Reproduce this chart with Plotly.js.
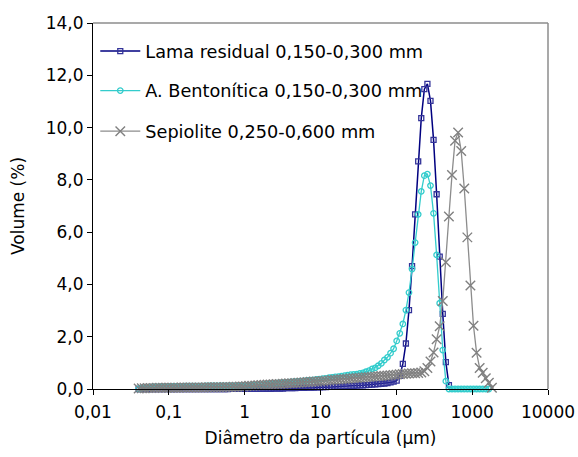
<!DOCTYPE html>
<html><head><meta charset="utf-8">
<script src="https://cdn.plot.ly/plotly-3.0.1.min.js"></script>
<style>html,body{margin:0;padding:0;background:#fff}#chart{width:578px;height:457px}</style>
</head><body><div id="chart"></div>
<script>
// Particle size channels (µm)
const sizes = [0.040,0.044,0.048,0.053,0.058,0.064,0.070,0.077,0.084,0.093,
 0.102,0.112,0.122,0.134,0.148,0.162,0.178,0.195,0.214,0.235,
 0.258,0.284,0.311,0.342,0.375,0.412,0.452,0.496,0.545,0.598,
 0.657,0.721,0.791,0.869,0.954,1.047,1.149,1.261,1.385,1.520,
 1.669,1.832,2.011,2.208,2.423,2.660,2.920,3.206,3.519,3.863,
 4.241,4.656,5.111,5.611,6.159,6.761,7.422,8.148,8.944,9.819,
 10.78,11.83,12.99,14.26,15.65,17.18,18.86,20.71,22.73,24.95,
 27.39,30.07,33.01,36.24,39.78,43.67,47.94,52.62,57.77,63.41,
 69.61,76.42,83.89,92.09,101.1,111.0,121.8,133.7,146.8,161.2,
 176.9,194.2,213.2,234.1,256.9,282.1,309.6,339.9,373.1,409.6,
 449.7,493.6,541.9,594.9,653.0,716.9,786.9,863.9,948.3,1041,
 1143,1255,1377,1512,1660,1822,2000];

// Volume (%) — Lama residual 0,150-0,300 mm
const lama = [0,0,0,0,0,0,0,0,0,0,
 0,0,0,0,0,0,0,0,0,0,
 0,0,0,0,0,0,0,0,0,0,
 0.01,0.01,0.01,0.01,0.01,0.01,0.01,0.01,0.01,0.01,
 0.01,0.01,0.01,0.01,0.02,0.02,0.02,0.02,0.03,0.03,
 0.03,0.03,0.04,0.04,0.04,0.05,0.05,0.05,0.06,0.06,
 0.07,0.07,0.08,0.08,0.09,0.09,0.10,0.10,0.11,0.12,
 0.12,0.13,0.14,0.14,0.15,0.16,0.17,0.18,0.19,0.20,
 0.21,0.23,0.25,0.28,0.32,0.50,0.96,1.74,3.02,4.70,
 6.68,8.71,10.36,11.47,11.67,11.02,9.53,7.45,5.06,2.87,
 1.03,0.15,null,null,null,null,null,null,null,null,
 null,null,null,null,null,null,null];

// Volume (%) — A. Bentonítica 0,150-0,300 mm
const bentonitica = [0.01,0.03,0.05,0.06,0.07,0.08,0.08,0.09,0.09,0.09,
 0.10,0.10,0.10,0.10,0.10,0.11,0.11,0.11,0.11,0.11,
 0.11,0.11,0.12,0.12,0.12,0.12,0.12,0.12,0.12,0.12,
 0.12,0.12,0.13,0.13,0.13,0.14,0.14,0.15,0.15,0.16,
 0.17,0.18,0.19,0.20,0.21,0.22,0.23,0.24,0.25,0.26,
 0.27,0.28,0.29,0.30,0.31,0.33,0.34,0.35,0.37,0.38,
 0.40,0.41,0.43,0.44,0.46,0.47,0.49,0.51,0.53,0.55,
 0.56,0.57,0.60,0.62,0.66,0.70,0.77,0.81,0.89,0.98,
 1.11,1.21,1.37,1.54,1.84,2.13,2.49,3.02,3.69,4.59,
 5.60,6.68,7.56,8.16,8.22,7.78,6.72,5.13,3.28,1.49,
 0.30,0,0,0,0,0,0,0,0,0,
 0,0,0,0,0,null,null];

// Volume (%) — Sepiolite 0,250-0,600 mm
const sepiolite = [0.02,0.03,0.03,0.04,0.04,0.04,0.05,0.05,0.05,0.05,
 0.05,0.05,0.05,0.05,0.06,0.06,0.06,0.06,0.06,0.06,
 0.06,0.06,0.07,0.07,0.07,0.07,0.07,0.07,0.08,0.08,
 0.08,0.09,0.09,0.10,0.10,0.11,0.12,0.12,0.13,0.14,
 0.15,0.16,0.17,0.17,0.18,0.19,0.19,0.20,0.21,0.22,
 0.22,0.23,0.24,0.25,0.26,0.27,0.28,0.29,0.29,0.30,
 0.31,0.32,0.33,0.34,0.35,0.36,0.37,0.38,0.39,0.40,
 0.41,0.42,0.43,0.44,0.45,0.46,0.47,0.48,0.49,0.50,
 0.51,0.52,0.53,0.54,0.55,0.56,0.57,0.58,0.59,0.60,
 0.60,0.61,0.63,0.68,0.80,1.05,1.40,1.90,2.40,3.37,
 4.85,6.60,8.19,9.50,9.81,9.10,7.67,5.80,3.96,2.42,
 1.39,0.80,0.62,0.41,0.24,0.05,null];

const seriesNames = ["Lama residual 0,150-0,300 mm", "A. Bentonítica 0,150-0,300 mm", "Sepiolite 0,250-0,600 mm"];
const xTickVals = [0.01, 0.1, 1, 10, 100, 1000, 10000];
const xTickText = ["0,01", "0,1", "1", "10", "100", "1000", "10000"];
const yTickVals = [0, 2, 4, 6, 8, 10, 12, 14];
const yTickText = ["0,0", "2,0", "4,0", "6,0", "8,0", "10,0", "12,0", "14,0"];
const xTitle = "Diâmetro da partícula (µm)";
const yTitle = "Volume (%)";

const FONT = "DejaVu Sans, Verdana, sans-serif";

const traces = [
  {x: sizes, y: lama, name: seriesNames[0], type: 'scatter', mode: 'lines+markers', legend: 'legend',
   cliponaxis: false,
   line: {color: '#000080', width: 1.5},
   marker: {symbol: 'square-open', size: 5, color: '#333399', line: {width: 1.3, color: '#333399'}}},
  {x: sizes, y: bentonitica, name: seriesNames[1], type: 'scatter', mode: 'lines+markers', legend: 'legend2',
   cliponaxis: false,
   line: {color: '#33CCCC', width: 1.3},
   marker: {symbol: 'circle-open', size: 5.5, color: '#33CCCC', line: {width: 1.3, color: '#33CCCC'}}},
  {x: sizes, y: sepiolite, name: seriesNames[2], type: 'scatter', mode: 'lines+markers', legend: 'legend3',
   cliponaxis: false,
   line: {color: '#8c8c8c', width: 1.3},
   marker: {symbol: 'x-thin-open', size: 9.5, color: '#808080', line: {width: 1.4, color: '#808080'}}}
];

const legendBase = {xanchor: 'left', yanchor: 'middle', bgcolor: 'rgba(0,0,0,0)', borderwidth: 0,
  itemwidth: 40, font: {family: FONT, size: 17.7, color: '#000'}};

const layout = {
  width: 578, height: 457,
  margin: {l: 93, r: 30, t: 23, b: 68},
  paper_bgcolor: '#ffffff', plot_bgcolor: '#ffffff',
  separators: ',.',
  font: {family: FONT, size: 17, color: '#000'},
  showlegend: true,
  xaxis: {type: 'log', range: [-2, 4], tickvals: xTickVals, ticktext: xTickText,
    ticks: 'outside', ticklen: 5, tickwidth: 1, tickcolor: '#000', ticklabelstandoff: 3,
    showline: true, linecolor: '#000', linewidth: 1, showgrid: false, zeroline: false,
    tickfont: {family: FONT, size: 17, color: '#000'},
    title: {text: xTitle, font: {family: FONT, size: 17, color: '#000'}, standoff: 10}},
  yaxis: {range: [0, 14], tickvals: yTickVals, ticktext: yTickText,
    ticks: 'outside', ticklen: 5, tickwidth: 1, tickcolor: '#000',
    showline: true, linecolor: '#000', linewidth: 1, showgrid: false, zeroline: false,
    tickfont: {family: FONT, size: 17, color: '#000'},
    title: {text: yTitle, font: {family: FONT, size: 17, color: '#000'}, standoff: 16}},
  shapes: [
    {type: 'line', xref: 'paper', yref: 'paper', x0: 0, x1: 1, y0: 1, y1: 1, line: {color: '#8c8c8c', width: 1.5}},
    {type: 'line', xref: 'paper', yref: 'paper', x0: 1, x1: 1, y0: 0, y1: 1, line: {color: '#8c8c8c', width: 1.5}}
  ],
  legend: Object.assign({}, legendBase, {x: 0.005, y: 0.922}),
  legend2: Object.assign({}, legendBase, {x: 0.005, y: 0.814}),
  legend3: Object.assign({}, legendBase, {x: 0.005, y: 0.703})
};

Plotly.newPlot('chart', traces, layout, {displayModeBar: false, staticPlot: true});
</script>
</body></html>
